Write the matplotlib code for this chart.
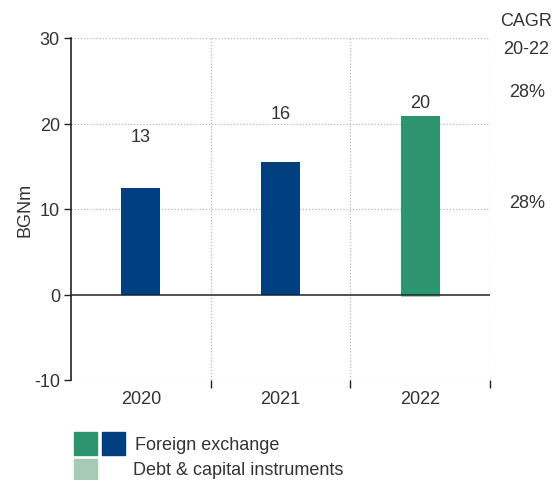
import matplotlib
matplotlib.use("Agg")
import matplotlib.pyplot as plt
from matplotlib.patches import Rectangle

plt.rcParams['font.family'] = ['Liberation Sans', 'DejaVu Sans']

years = ["2020", "2021", "2022"]
foreign_exchange = [12.5, 15.5, 20.9]
debt_capital = [0.0, 0.0, -0.3]
total_labels = ["13", "16", "20"]
cagr_values = ["28%", "28%"]
yticks = [-10, 0, 10, 20, 30]

# vertical placement of the total labels (data units)
label_y = [18.5, 21.2, 22.5]

navy = "#003F7F"
green = "#2E9470"
light_green = "#A6CBB5"
text_col = "#333333"
fs = 13

fig = plt.figure(figsize=(5.59, 4.81), dpi=100)
ax = fig.add_axes([71 / 559, 1 - 381 / 481, 419 / 559, 342 / 481])

x = list(range(len(years)))
fx_colors = [navy, navy, green]
width = 0.28
ax.bar(x, foreign_exchange, width=width, color=fx_colors, zorder=3)
ax.bar(x, debt_capital, width=width, color=light_green, zorder=3)

for xi, ly, lab in zip(x, label_y, total_labels):
    ax.text(xi, ly, lab, ha="center", va="center", fontsize=fs, color=text_col)

ax.set_xlim(-0.5, 2.5)
ax.set_ylim(-10, 30)
ax.set_yticks(yticks)
ax.set_yticklabels([str(t) for t in yticks])
ax.set_xticks(x)
ax.set_xticklabels(years)
ax.set_xticks([0.5, 1.5, 2.5], minor=True)

ax.tick_params(axis="y", direction="out", length=5, width=1, color="#222222",
               labelsize=fs, labelcolor=text_col, pad=3)
ax.tick_params(axis="x", which="major", length=0, labelsize=fs,
               labelcolor=text_col, pad=7)
ax.tick_params(axis="x", which="minor", direction="out", length=6, width=1,
               color="#222222")

for s in ["top", "right", "bottom"]:
    ax.spines[s].set_visible(False)
ax.spines["left"].set_color("#222222")
ax.spines["left"].set_linewidth(1.2)

grid_kw = dict(color="#BBBBBB", linestyle=(0, (1, 1.5)), linewidth=0.9, zorder=1)
for t in [-10, 10, 20, 30]:
    ax.axhline(t, **grid_kw)
for b in [0.5, 1.5, 2.5]:
    ax.axvline(b, **grid_kw)
ax.axhline(0, color="#222222", linewidth=1.1, zorder=4)

ax.set_ylabel("BGNm", fontsize=fs, color=text_col, labelpad=0)

# CAGR column on the right
fig.text(526 / 559, 1 - 22 / 481, "CAGR", ha="center", va="center", fontsize=fs, color=text_col)
fig.text(526 / 559, 1 - 50 / 481, "20-22", ha="center", va="center", fontsize=fs, color=text_col)
fig.text(527 / 559, 1 - 93 / 481, cagr_values[0], ha="center", va="center", fontsize=fs, color=text_col)
fig.text(527 / 559, 1 - 203 / 481, cagr_values[1], ha="center", va="center", fontsize=fs, color=text_col)

# Legend swatches
def swatch(x0, y0, w, h, c):
    fig.patches.append(Rectangle((x0 / 559, 1 - (y0 + h) / 481), w / 559, h / 481,
                                 transform=fig.transFigure, color=c, figure=fig))

swatch(74, 433, 23, 23, green)
swatch(102, 433, 23, 23, navy)
swatch(74, 460, 23, 21, light_green)
fig.text(135 / 559, 1 - 446 / 481, "Foreign exchange", ha="left", va="center",
         fontsize=fs, color=text_col)
fig.text(133 / 559, 1 - 471 / 481, "Debt & capital instruments", ha="left", va="center",
         fontsize=fs, color=text_col)

fig.savefig("out.png", dpi=100)
